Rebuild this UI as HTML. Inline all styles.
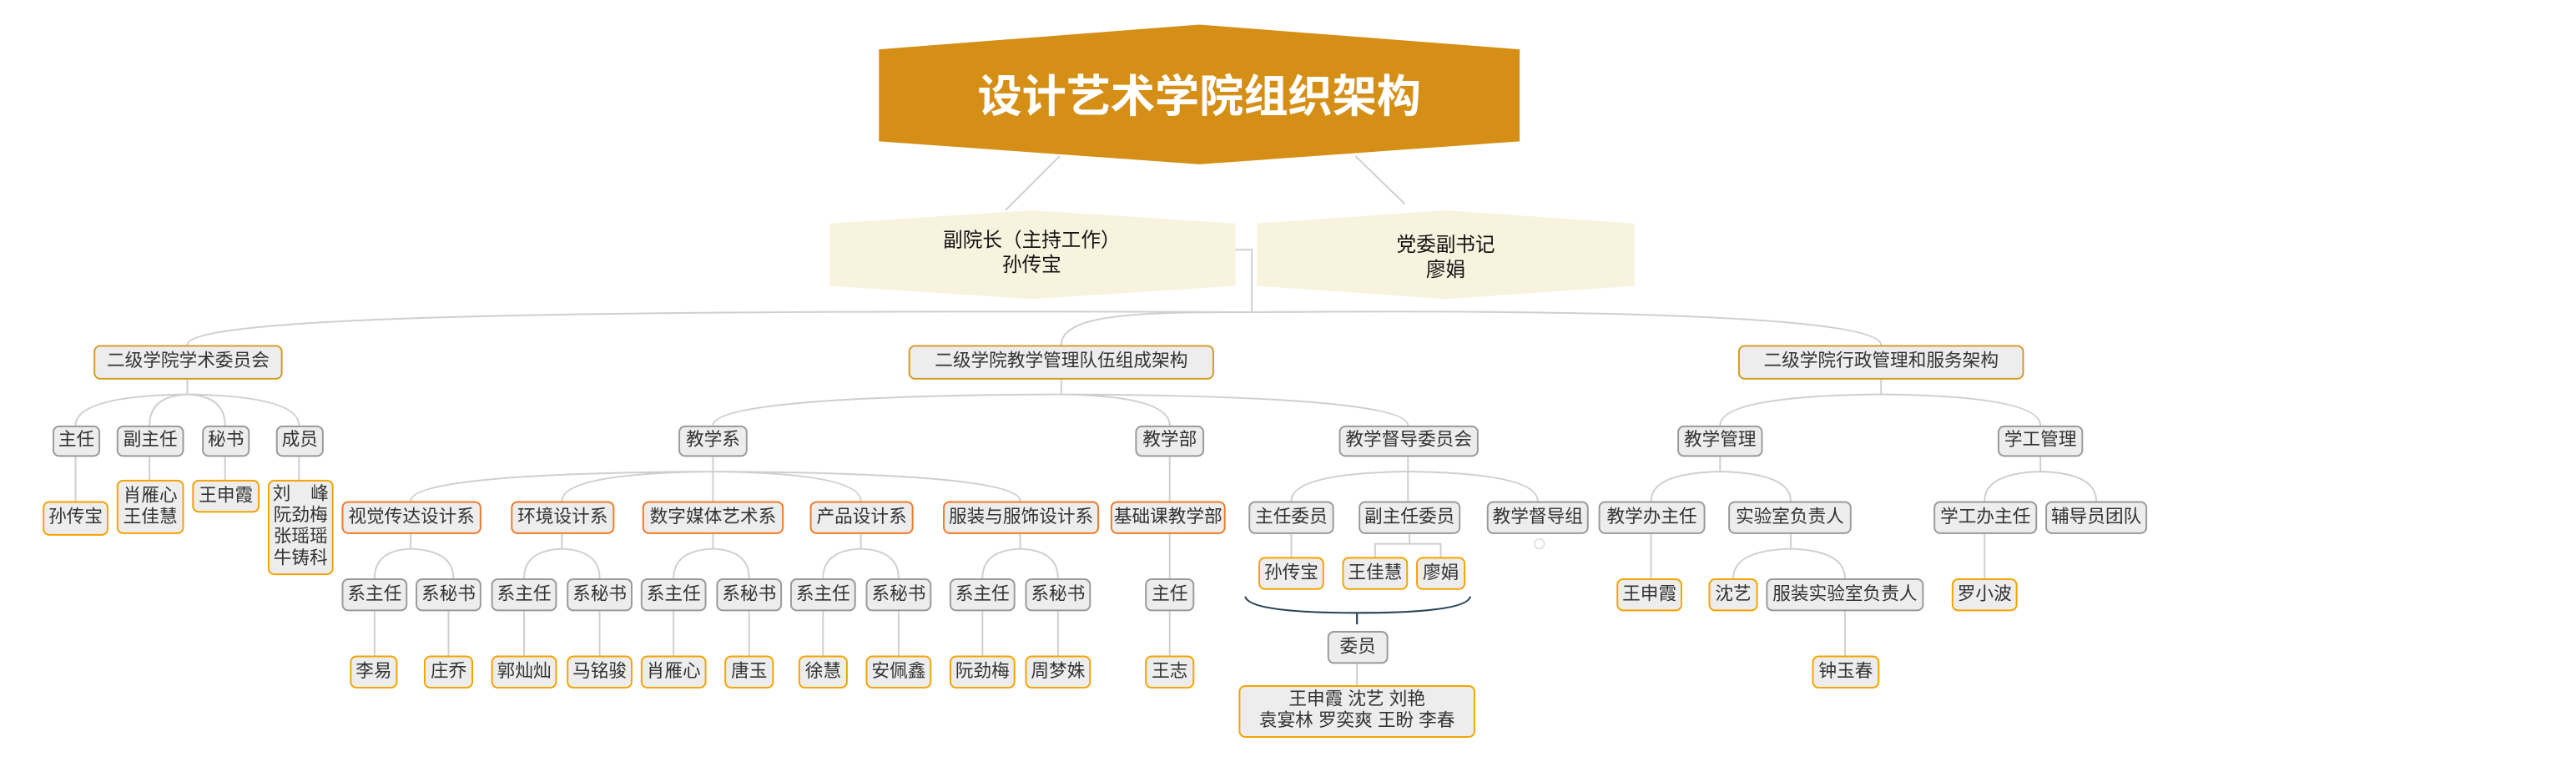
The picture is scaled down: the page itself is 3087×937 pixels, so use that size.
<!DOCTYPE html>
<html><head><meta charset="utf-8">
<style>
html,body{margin:0;padding:0;background:#fff;width:3087px;height:937px;overflow:hidden}
#c{position:absolute;left:0;top:0;width:1568px;height:476px;transform:scale(1.96875);transform-origin:0 0;font-family:"Liberation Sans","Noto Sans CJK SC",sans-serif}
.n{position:absolute;box-sizing:border-box;display:flex;align-items:center;justify-content:center;text-align:center;border:1.3px solid #9a9a9a;border-radius:4px;background:#ededed;font-size:11px;color:#333;line-height:13px;white-space:nowrap}
.o{border-color:#f5a300}
.r{border-color:#f07a28;border-width:1.6px}
.g{border-color:#d49a22;border-width:1.4px}
svg{position:absolute;left:0;top:0}
</style></head><body><div id="c">
<svg width="1568" height="476" viewBox="0 0 1568 476">
<polygon points="535,30 730,15 925,30 925,86 730,100 535,86" fill="#d58f17"/>
<polygon points="505,136 628,128 752,136 752,174 628,182 505,174" fill="#f8f3de"/>
<polygon points="765,136 880,128 995,136 995,174 880,182 765,174" fill="#f8f3de"/>
<g fill="none" stroke="#cfcfcf" stroke-width="1">
<path d="M645,95 L612,128 M825,95 L855,124"/>
<path d="M752,152 H762 V190"/>
<path d="M762,190 C300,188 114,194 114,210"/>
<path d="M762,190 C700,190 646,190 646,210"/>
<path d="M762,190 C1000,188 1145,194 1145,210"/>
<!-- left -->
<path d="M114,231 V240 M114,240 Q46,241 46,259 M114,240 Q91,241 91,259 M114,240 Q137,241 137,259 M114,240 Q182,241 182,259"/>
<path d="M46,278 V305 M91,278 V292 M137,278 V292 M182,278 V292"/>
<!-- middle -->
<path d="M646,231 V240 M646,240 Q434,241 434,259 M646,240 Q712,241 712,259 M646,240 Q857,241 857,259"/>
<path d="M434,278 V287 M434,287 Q250,288 250,305 M434,287 Q342,288 342,305 M434,287 V305 M434,287 Q524,288 524,305 M434,287 Q621,288 621,305"/>
<path d="M712,278 V352 M712,372 V399"/>
<path d="M250,325 V334 Q228,335 228,352 M250,334 Q276,335 276,352"/>
<path d="M342,325 V334 Q319,335 319,352 M342,334 Q365,335 365,352"/>
<path d="M434,325 V334 Q410,335 410,352 M434,334 Q456,335 456,352"/>
<path d="M524,325 V334 Q501,335 501,352 M524,334 Q547,335 547,352"/>
<path d="M621,325 V334 Q598,335 598,352 M621,334 Q644,335 644,352"/>
<path d="M228,372 V399 M273,372 V399 M319,372 V399 M365,372 V399 M410,372 V399 M456,372 V399 M501,372 V399 M547,372 V399 M598,372 V399 M644,372 V399"/>
<path d="M857,278 V287 M857,287 Q786,288 786,305 M857,287 V305 M857,287 Q936,288 936,305"/>
<path d="M786,325 V339 M858,325 V331 M837,339 V331 H877 V339"/>
<path d="M826,404 V417"/>
<!-- right -->
<path d="M1145,231 V240 M1145,240 Q1047,241 1047,259 M1145,240 Q1242,241 1242,259"/>
<path d="M1047,278 V287 Q1005,288 1005,305 M1047,287 Q1090,288 1090,305"/>
<path d="M1005,325 V352 M1090,325 V334 Q1055,335 1055,352 M1090,334 Q1123,335 1123,352 M1123,372 V399"/>
<path d="M1242,278 V287 Q1208,288 1208,305 M1242,287 Q1276,288 1276,305 M1208,325 V352"/>
</g>
<path d="M758,363 Q760,373 826,373 Q893,373 895,363 M826,373 V380" fill="none" stroke="#2b4658" stroke-width="1.1"/>
<circle cx="937" cy="331" r="3" fill="none" stroke="#ddd" stroke-width="0.8"/>
<text x="730" y="68" fill="#fff" font-size="27" font-weight="bold" text-anchor="middle" font-family="Liberation Sans,Noto Sans CJK SC,sans-serif">设计艺术学院组织架构</text>
<text x="628" y="150" fill="#111" font-size="12" text-anchor="middle" font-family="Liberation Sans,Noto Sans CJK SC,sans-serif">副院长（主持工作）</text>
<text x="628" y="165" fill="#111" font-size="12" text-anchor="middle" font-family="Liberation Sans,Noto Sans CJK SC,sans-serif">孙传宝</text>
<text x="880" y="153" fill="#111" font-size="12" text-anchor="middle" font-family="Liberation Sans,Noto Sans CJK SC,sans-serif">党委副书记</text>
<text x="880" y="168" fill="#111" font-size="12" text-anchor="middle" font-family="Liberation Sans,Noto Sans CJK SC,sans-serif">廖娟</text>
</svg>

<div class="n g" style="left:57px;top:210px;width:115px;height:21px">二级学院学术委员会</div>
<div class="n g" style="left:553px;top:210px;width:186px;height:21px">二级学院教学管理队伍组成架构</div>
<div class="n g" style="left:1058px;top:210px;width:174px;height:21px">二级学院行政管理和服务架构</div>

<div class="n" style="left:32px;top:259px;width:29px;height:19px">主任</div>
<div class="n" style="left:71px;top:259px;width:41px;height:19px">副主任</div>
<div class="n" style="left:123px;top:259px;width:29px;height:19px">秘书</div>
<div class="n" style="left:168px;top:259px;width:29px;height:19px">成员</div>
<div class="n o" style="left:26px;top:305px;width:40px;height:21px">孙传宝</div>
<div class="n o" style="left:71px;top:292px;width:41px;height:33px">肖雁心<br>王佳慧</div>
<div class="n o" style="left:117px;top:292px;width:41px;height:20px">王申霞</div>
<div class="n o" style="left:163px;top:292px;width:40px;height:58px">刘&nbsp;&nbsp;&nbsp;&nbsp;峰<br>阮劲梅<br>张瑶瑶<br>牛铸科</div>

<div class="n" style="left:413px;top:259px;width:42px;height:19px">教学系</div>
<div class="n" style="left:691px;top:259px;width:42px;height:19px">教学部</div>
<div class="n" style="left:815px;top:259px;width:85px;height:19px">教学督导委员会</div>

<div class="n r" style="left:208px;top:305px;width:85px;height:20px">视觉传达设计系</div>
<div class="n r" style="left:311px;top:305px;width:63px;height:20px">环境设计系</div>
<div class="n r" style="left:391px;top:305px;width:86px;height:20px">数字媒体艺术系</div>
<div class="n r" style="left:493px;top:305px;width:63px;height:20px">产品设计系</div>
<div class="n r" style="left:574px;top:305px;width:95px;height:20px">服装与服饰设计系</div>
<div class="n r" style="left:676px;top:305px;width:70px;height:20px">基础课教学部</div>

<div class="n" style="left:208px;top:352px;width:40px;height:20px">系主任</div>
<div class="n" style="left:253px;top:352px;width:40px;height:20px">系秘书</div>
<div class="n" style="left:299px;top:352px;width:40px;height:20px">系主任</div>
<div class="n" style="left:345px;top:352px;width:40px;height:20px">系秘书</div>
<div class="n" style="left:390px;top:352px;width:40px;height:20px">系主任</div>
<div class="n" style="left:436px;top:352px;width:40px;height:20px">系秘书</div>
<div class="n" style="left:481px;top:352px;width:40px;height:20px">系主任</div>
<div class="n" style="left:527px;top:352px;width:40px;height:20px">系秘书</div>
<div class="n" style="left:578px;top:352px;width:40px;height:20px">系主任</div>
<div class="n" style="left:624px;top:352px;width:40px;height:20px">系秘书</div>
<div class="n" style="left:697px;top:352px;width:30px;height:20px">主任</div>

<div class="n o" style="left:213px;top:399px;width:29px;height:20px">李易</div>
<div class="n o" style="left:258px;top:399px;width:30px;height:20px">庄乔</div>
<div class="n o" style="left:299px;top:399px;width:40px;height:20px">郭灿灿</div>
<div class="n o" style="left:345px;top:399px;width:40px;height:20px">马铭骏</div>
<div class="n o" style="left:390px;top:399px;width:40px;height:20px">肖雁心</div>
<div class="n o" style="left:441px;top:399px;width:30px;height:20px">唐玉</div>
<div class="n o" style="left:486px;top:399px;width:30px;height:20px">徐慧</div>
<div class="n o" style="left:527px;top:399px;width:40px;height:20px">安佩鑫</div>
<div class="n o" style="left:578px;top:399px;width:40px;height:20px">阮劲梅</div>
<div class="n o" style="left:624px;top:399px;width:40px;height:20px">周梦姝</div>
<div class="n o" style="left:697px;top:399px;width:30px;height:20px">王志</div>

<div class="n" style="left:760px;top:305px;width:52px;height:20px">主任委员</div>
<div class="n" style="left:827px;top:305px;width:62px;height:20px">副主任委员</div>
<div class="n" style="left:905px;top:305px;width:62px;height:20px">教学督导组</div>
<div class="n o" style="left:766px;top:339px;width:40px;height:20px">孙传宝</div>
<div class="n o" style="left:817px;top:339px;width:40px;height:20px">王佳慧</div>
<div class="n o" style="left:862px;top:339px;width:30px;height:20px">廖娟</div>
<div class="n" style="left:808px;top:384px;width:37px;height:20px">委员</div>
<div class="n o" style="left:754px;top:417px;width:144px;height:32px">王申霞 沈艺 刘艳<br>袁宴林 罗奕爽 王盼 李春</div>

<div class="n" style="left:1021px;top:259px;width:52px;height:19px">教学管理</div>
<div class="n" style="left:1216px;top:259px;width:52px;height:19px">学工管理</div>
<div class="n" style="left:973px;top:305px;width:65px;height:20px">教学办主任</div>
<div class="n" style="left:1052px;top:305px;width:75px;height:20px">实验室负责人</div>
<div class="n" style="left:1177px;top:305px;width:63px;height:20px">学工办主任</div>
<div class="n" style="left:1245px;top:305px;width:62px;height:20px">辅导员团队</div>
<div class="n o" style="left:984px;top:352px;width:40px;height:20px">王申霞</div>
<div class="n o" style="left:1040px;top:352px;width:30px;height:20px">沈艺</div>
<div class="n" style="left:1075px;top:352px;width:96px;height:20px">服装实验室负责人</div>
<div class="n o" style="left:1188px;top:352px;width:40px;height:20px">罗小波</div>
<div class="n o" style="left:1103px;top:399px;width:41px;height:20px">钟玉春</div>
</div></body></html>
